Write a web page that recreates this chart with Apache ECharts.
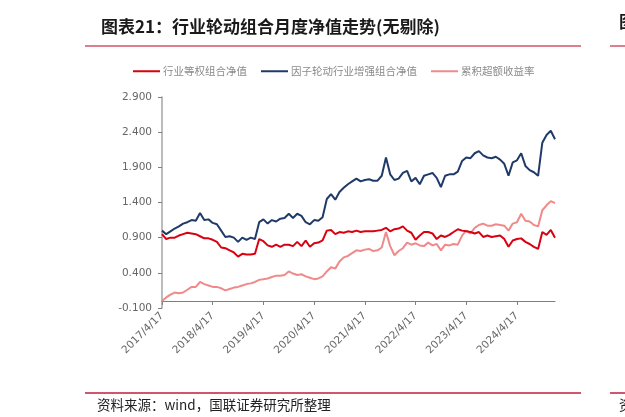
<!DOCTYPE html>
<html>
<head>
<meta charset="utf-8">
<script src="https://cdn.jsdelivr.net/npm/echarts@6/dist/echarts.min.js"></script>
<style>
html,body{margin:0;padding:0;background:#fff;}
#c{width:625px;height:417px;}
</style>
</head>
<body>
<div id="c"></div>
<script>
var categories = [
"2017/4/17","2017/5/17","2017/6/17","2017/7/17","2017/8/17","2017/9/17","2017/10/17","2017/11/17","2017/12/17",
"2018/1/17","2018/2/17","2018/3/17","2018/4/17","2018/5/17","2018/6/17","2018/7/17","2018/8/17","2018/9/17","2018/10/17","2018/11/17","2018/12/17",
"2019/1/17","2019/2/17","2019/3/17","2019/4/17","2019/5/17","2019/6/17","2019/7/17","2019/8/17","2019/9/17","2019/10/17","2019/11/17","2019/12/17",
"2020/1/17","2020/2/17","2020/3/17","2020/4/17","2020/5/17","2020/6/17","2020/7/17","2020/8/17","2020/9/17","2020/10/17","2020/11/17","2020/12/17",
"2021/1/17","2021/2/17","2021/3/17","2021/4/17","2021/5/17","2021/6/17","2021/7/17","2021/8/17","2021/9/17","2021/10/17","2021/11/17","2021/12/17",
"2022/1/17","2022/2/17","2022/3/17","2022/4/17","2022/5/17","2022/6/17","2022/7/17","2022/8/17","2022/9/17","2022/10/17","2022/11/17","2022/12/17",
"2023/1/17","2023/2/17","2023/3/17","2023/4/17","2023/5/17","2023/6/17","2023/7/17","2023/8/17","2023/9/17","2023/10/17","2023/11/17","2023/12/17",
"2024/1/17","2024/2/17","2024/3/17","2024/4/17","2024/5/17","2024/6/17","2024/7/17","2024/8/17","2024/9/17","2024/10/17","2024/11/17","2024/12/17",
"2025/1/17"
];

var equalWeight = [
0.95,0.88,0.90,0.90,0.93,0.95,0.97,0.96,0.95,0.92,0.89,0.89,0.87,0.84,0.76,0.75,0.72,0.69,0.63,0.67,
0.66,0.66,0.67,0.88,0.85,0.79,0.77,0.80,0.77,0.80,0.80,0.78,0.84,0.78,0.86,0.77,0.82,0.83,0.86,1.00,
1.01,0.95,0.98,0.97,0.99,0.98,1.00,0.98,0.99,0.99,0.99,1.00,1.01,1.04,0.99,1.02,1.03,1.06,1.00,0.97,
0.87,0.93,0.98,0.98,0.96,0.88,0.93,0.91,0.94,0.98,1.02,1.00,0.99,0.98,0.96,0.98,0.91,0.93,0.91,0.92,
0.93,0.88,0.77,0.86,0.88,0.89,0.84,0.81,0.77,0.74,0.98,0.94,1.01,0.90
];

var enhanced = [
1.00,0.95,0.99,1.03,1.06,1.10,1.12,1.15,1.14,1.25,1.15,1.16,1.11,1.09,1.00,0.91,0.92,0.90,0.84,0.90,
0.87,0.90,0.88,1.12,1.16,1.10,1.15,1.13,1.17,1.18,1.24,1.18,1.24,1.21,1.12,1.09,1.15,1.14,1.19,1.45,
1.52,1.44,1.55,1.61,1.66,1.70,1.74,1.70,1.72,1.73,1.71,1.71,1.78,2.04,1.80,1.72,1.74,1.82,1.85,1.70,
1.75,1.66,1.78,1.80,1.82,1.75,1.62,1.78,1.80,1.80,1.84,1.99,2.04,2.03,2.10,2.13,2.07,2.04,2.03,2.05,
2.01,1.95,1.78,1.97,2.00,2.10,1.92,1.86,1.83,1.78,2.25,2.36,2.42,2.30
];

var excess = [
0.00,0.05,0.09,0.12,0.11,0.12,0.16,0.20,0.20,0.27,0.24,0.22,0.20,0.20,0.18,0.15,0.17,0.19,0.20,0.22,
0.24,0.25,0.27,0.30,0.31,0.32,0.34,0.36,0.36,0.37,0.42,0.39,0.37,0.38,0.35,0.33,0.31,0.32,0.35,0.42,
0.48,0.46,0.56,0.62,0.64,0.68,0.72,0.71,0.73,0.74,0.71,0.72,0.76,0.98,0.78,0.65,0.71,0.75,0.83,0.80,
0.82,0.79,0.78,0.83,0.79,0.81,0.72,0.80,0.79,0.81,0.80,0.93,1.00,0.96,1.04,1.08,1.10,1.07,1.07,1.09,
1.08,1.07,1.00,1.10,1.12,1.24,1.14,1.13,1.08,1.06,1.29,1.36,1.42,1.39
];

var seriesNames = ["行业等权组合净值","因子轮动行业增强组合净值","累积超额收益率"];
var titleText = "图表21：行业轮动组合月度净值走势(无剔除)";
var sourceText = "资料来源：wind，国联证券研究所整理";

var chart = echarts.init(document.getElementById('c'), null, {renderer:'canvas'});
var cjk = '"Noto Sans CJK SC", "Noto Sans", sans-serif';
var axisFont = '"DejaVu Sans", "Noto Sans", sans-serif';

chart.setOption({
  backgroundColor:'#ffffff',
  animation:false,
  title:{
    text:titleText, left:96, top:13,
    textStyle:{fontFamily:cjk, fontSize:17, fontWeight:'bold', color:'#1a1a1a'}
  },
  graphic:[
    {type:'rect', shape:{x:85,y:45,width:496,height:2}, style:{fill:'#de7f8f'}},
    {type:'rect', shape:{x:610,y:45,width:20,height:2}, style:{fill:'#de7f8f'}},
    {type:'text', left:619, top:13, style:{text:'图', font:'bold 17px '+cjk, fill:'#1a1a1a'}},
    {type:'rect', shape:{x:85,y:392,width:496,height:2}, style:{fill:'#d0566d'}},
    {type:'rect', shape:{x:610,y:392,width:20,height:2}, style:{fill:'#d0566d'}},
    {type:'text', left:97, top:398, style:{text:sourceText, font:'13.5px '+cjk, fill:'#222'}},
    {type:'text', left:619, top:398, style:{text:'资', font:'13.5px '+cjk, fill:'#222'}}
  ],
  legend:{
    left:128, top:61, itemWidth:27, itemHeight:2, itemGap:14,
    icon:'rect',
    textStyle:{fontFamily:cjk, fontSize:10.5, color:'#8a8a8a', padding:[0,0,0,-2]},
    data:seriesNames
  },
  grid:{left:162, right:70, top:97, bottom:109, containLabel:false},
  xAxis:{
    type:'category', data:categories, boundaryGap:false,
    axisLine:{onZero:true, lineStyle:{color:'#7f7f7f', width:1}},
    axisTick:{show:true, interval:11, length:4, lineStyle:{color:'#7f7f7f'}},
    axisLabel:{interval:11, rotate:45, fontFamily:axisFont, fontSize:10.5, color:'#666', margin:6},
    splitLine:{show:false}
  },
  yAxis:{
    type:'value', min:-0.1, max:2.9, interval:0.5,
    axisLine:{show:true, lineStyle:{color:'#a6a6a6', width:1.5}},
    axisTick:{show:true, length:4, lineStyle:{color:'#7f7f7f'}},
    axisLabel:{fontFamily:axisFont, fontSize:10.5, color:'#666', margin:10,
      formatter:function(v){return v.toFixed(3);}},
    splitLine:{show:false}
  },
  series:[
    {name:seriesNames[0], type:'line', data:equalWeight, showSymbol:false, symbol:'none',
      lineStyle:{color:'#d9000f', width:2}, itemStyle:{color:'#d9000f'}, z:3},
    {name:seriesNames[1], type:'line', data:enhanced, showSymbol:false, symbol:'none',
      lineStyle:{color:'#1f3a68', width:2}, itemStyle:{color:'#1f3a68'}, z:4},
    {name:seriesNames[2], type:'line', data:excess, showSymbol:false, symbol:'none',
      lineStyle:{color:'#f08a8a', width:2}, itemStyle:{color:'#f08a8a'}, z:2}
  ]
});
</script>
</body>
</html>
